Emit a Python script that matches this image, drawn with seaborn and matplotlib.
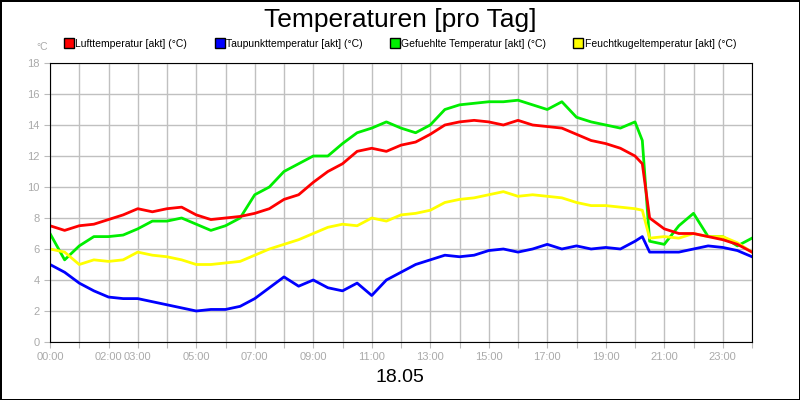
import seaborn as sns
import matplotlib.pyplot as plt
from matplotlib.lines import Line2D
import pandas as pd

hours = [0, 0.5, 1, 1.5, 2, 2.5, 3, 3.5, 4, 4.5, 5, 5.5, 6, 6.5, 7, 7.5, 8, 8.5, 9, 9.5,
         10, 10.5, 11, 11.5, 12, 12.5, 13, 13.5, 14, 14.5, 15, 15.5, 16, 16.5, 17, 17.5,
         18, 18.5, 19, 19.5, 20, 20.25, 20.5, 21, 21.5, 22, 22.5, 23, 23.5, 24]

luft = [7.5, 7.2, 7.5, 7.6, 7.9, 8.2, 8.6, 8.4, 8.6, 8.7, 8.2, 7.9, 8.0, 8.1, 8.3, 8.6,
        9.2, 9.5, 10.3, 11.0, 11.5, 12.3, 12.5, 12.3, 12.7, 12.9, 13.4, 14.0, 14.2, 14.3,
        14.2, 14.0, 14.3, 14.0, 13.9, 13.8, 13.4, 13.0, 12.8, 12.5, 12.0, 11.5, 8.0, 7.3,
        7.0, 7.0, 6.8, 6.6, 6.3, 5.8]
taupunkt = [5.0, 4.5, 3.8, 3.3, 2.9, 2.8, 2.8, 2.6, 2.4, 2.2, 2.0, 2.1, 2.1, 2.3, 2.8, 3.5,
            4.2, 3.6, 4.0, 3.5, 3.3, 3.8, 3.0, 4.0, 4.5, 5.0, 5.3, 5.6, 5.5, 5.6, 5.9, 6.0,
            5.8, 6.0, 6.3, 6.0, 6.2, 6.0, 6.1, 6.0, 6.5, 6.8, 5.8, 5.8, 5.8, 6.0, 6.2, 6.1,
            5.9, 5.5]
gefuehlt = [7.0, 5.3, 6.2, 6.8, 6.8, 6.9, 7.3, 7.8, 7.8, 8.0, 7.6, 7.2, 7.5, 8.0, 9.5, 10.0,
            11.0, 11.5, 12.0, 12.0, 12.8, 13.5, 13.8, 14.2, 13.8, 13.5, 14.0, 15.0, 15.3, 15.4,
            15.5, 15.5, 15.6, 15.3, 15.0, 15.5, 14.5, 14.2, 14.0, 13.8, 14.2, 13.0, 6.5, 6.3,
            7.5, 8.3, 6.8, 6.8, 6.2, 6.7]
feucht = [6.0, 5.8, 5.0, 5.3, 5.2, 5.3, 5.8, 5.6, 5.5, 5.3, 5.0, 5.0, 5.1, 5.2, 5.6, 6.0,
          6.3, 6.6, 7.0, 7.4, 7.6, 7.5, 8.0, 7.8, 8.2, 8.3, 8.5, 9.0, 9.2, 9.3, 9.5, 9.7,
          9.4, 9.5, 9.4, 9.3, 9.0, 8.8, 8.8, 8.7, 8.6, 8.5, 6.7, 6.8, 6.7, 7.0, 6.8, 6.8,
          6.4, 5.8]

series = ["Lufttemperatur [akt] (°C)", "Taupunkttemperatur [akt] (°C)",
          "Gefuehlte Temperatur [akt] (°C)", "Feuchtkugeltemperatur [akt] (°C)"]
colors = ["#ff0000", "#0000ff", "#00ee00", "#ffff00"]
tick_hours = [0, 2, 3, 5, 7, 9, 11, 13, 15, 17, 19, 21, 23]

plt.rcParams["font.family"] = ["Liberation Sans Narrow", "Liberation Sans", "DejaVu Sans"]
df = pd.DataFrame({"h": hours, series[0]: luft, series[1]: taupunkt,
                   series[2]: gefuehlt, series[3]: feucht})
long = df.melt(id_vars="h", var_name="s", value_name="v")

fig = plt.figure(figsize=(8, 4), dpi=100)
fig.patch.set_edgecolor("black")
fig.patch.set_linewidth(2)
ax = fig.add_axes([0.0625, 0.145, 0.8775, 0.6975])

# draw order: green, yellow, blue, red on top
order = [series[2], series[3], series[1], series[0]]
for s in order:
    sub = long[long.s == s]
    sns.lineplot(data=sub, x="h", y="v", ax=ax, color=colors[series.index(s)],
                 linewidth=2, legend=False)

ax.set_xlim(0, 24)
ax.set_ylim(0, 18)
ax.set_xticks(range(25))
ax.set_xticklabels([f"{h:02d}:00" if h in tick_hours else "" for h in range(25)])
ax.set_yticks(range(0, 19, 2))
ax.grid(True, color="#c0c0c0", linewidth=1)
ax.set_axisbelow(True)
ax.tick_params(colors="#bbbbbb", labelsize=8, labelcolor="#aaaaaa", length=4)
ax.set_xlabel("")
ax.set_ylabel("")
for sp in ax.spines.values():
    sp.set_color("black")

fig.text(0.5, 0.95, "Temperaturen [pro Tag]", ha="center", va="center", fontsize=19)
fig.text(0.045, 0.883, "°C", ha="left", va="center", fontsize=7.5, color="#aaaaaa")
fig.text(0.5, 0.055, "18.05", ha="center", va="center", fontsize=14)

handles = [Line2D([], [], marker="s", linestyle="", markersize=6.5, markerfacecolor=c,
                  markeredgecolor="black") for c in colors]
fig.legend(handles, series, loc="center", bbox_to_anchor=(0.5, 0.89), ncol=4,
           frameon=False, fontsize=7.5, handletextpad=0.1, columnspacing=2.6,
           handlelength=1)

fig.savefig("out.png", dpi=100)
